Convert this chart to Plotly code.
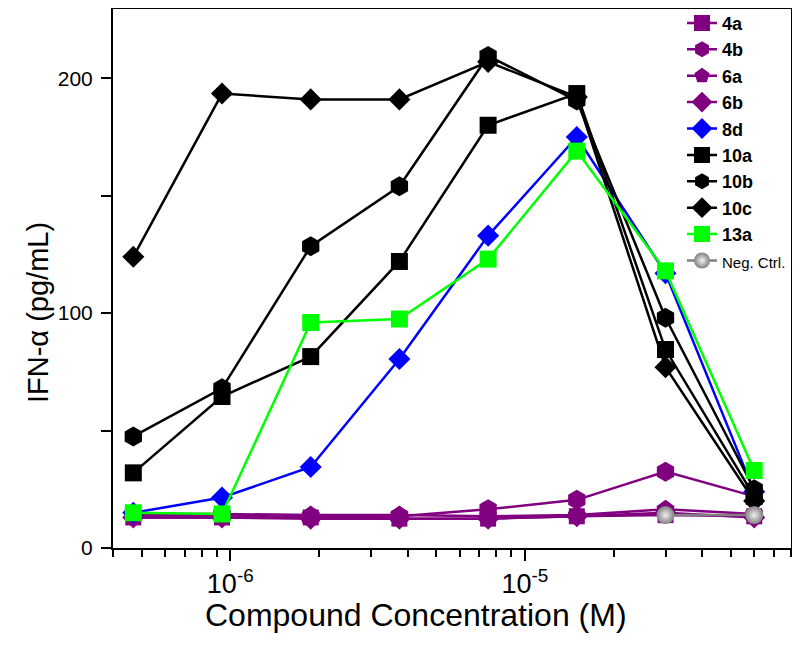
import plotly.graph_objects as go

conc = [4.6875e-7, 9.375e-7, 1.875e-6, 3.75e-6, 7.5e-6, 1.5e-5, 3e-5, 6e-5]

v_4a = [13, 13, 13, 12.5, 12.5, 13.5, 14, 13.5]
v_4b = [14, 14, 13, 13.5, 16.5, 20.5, 32.5, 22]
v_6a = [14.5, 14.5, 14, 14, 13.5, 14, 16.5, 14.5]
v_6b = [13, 13, 12.5, 12.5, 12.5, 13.5, 15, 13]
v_8d = [15, 21.5, 34.5, 80.5, 133, 175, 117, 24]
v_10a = [32, 64.5, 81.5, 122, 180, 193.5, 84.5, 22]
v_10b = [47.5, 68, 128.5, 154, 209.5, 190.5, 98, 25]
v_10c = [124, 193.5, 191, 191, 207, 192, 77, 20]
v_13a = [15, 14.5, 96, 97.5, 123, 169, 118, 33]
neg_conc = [3e-5, 6e-5]
v_neg = [14, 14]

series = [
    ("<b>4a</b>", conc, v_4a, "#800080", "square", 16),
    ("<b>4b</b>", conc, v_4b, "#800080", "hexagon", 20),
    ("<b>6a</b>", conc, v_6a, "#800080", "pentagon", 19),
    ("<b>6b</b>", conc, v_6b, "#800080", "diamond", 17),
    ("<b>8d</b>", conc, v_8d, "#0000FF", "diamond", 17),
    ("<b>10a</b>", conc, v_10a, "#000000", "square", 17),
    ("<b>10b</b>", conc, v_10b, "#000000", "hexagon", 20),
    ("<b>10c</b>", conc, v_10c, "#000000", "diamond", 17),
    ("<b>13a</b>", conc, v_13a, "#00FF00", "square", 17),
]

fig = go.Figure()
for name, xs, ys, col, sym, sz in series:
    fig.add_trace(go.Scatter(
        x=xs, y=ys, name=name, mode="lines+markers",
        line=dict(color=col, width=2.5),
        marker=dict(symbol=sym, size=sz, color=col, line=dict(width=0)),
    ))
fig.add_trace(go.Scatter(
    x=neg_conc, y=v_neg, name="<span style='font-size:15px'>Neg. Ctrl.</span>",
    mode="lines+markers", line=dict(color="#808080", width=2.5),
    marker=dict(symbol="circle", size=18, color="#808080",
                gradient=dict(type="radial", color="#f0f0f0"), line=dict(width=0)),
))

# page body has an 8px default margin; figure is sized/offset to compensate
fig.update_layout(
    width=792, height=648,
    margin=dict(l=105, r=9, t=1, b=108, autoexpand=False),
    plot_bgcolor="white", paper_bgcolor="white",
    font=dict(family="Liberation Sans, Arial, sans-serif", color="black"),
    showlegend=True,
    legend=dict(x=1, xanchor="right", y=1.008, yanchor="top", bgcolor="rgba(0,0,0,0)",
                font=dict(size=18, color="black"), tracegroupgap=0),
    annotations=[
        dict(text="Compound Concentration (M)", xref="paper", yref="paper",
             x=0.447, y=-0.124, xanchor="center", yanchor="middle",
             showarrow=False, font=dict(size=32)),
        dict(text="IFN-α (pg/mL)", xref="paper", yref="paper",
             x=-0.1106, y=0.436, xanchor="center", yanchor="middle", textangle=-90,
             showarrow=False, font=dict(size=29)),
    ],
)
fig.update_xaxes(
    type="log", range=[-6.398, -4.097], automargin=False,
    tickvals=[1e-6, 1e-5], ticktext=["10<sup>-6</sup>", "10<sup>-5</sup>"],
    ticks="outside", ticklen=11, tickwidth=2, tickcolor="black",
    tickfont=dict(size=27),
    minor=dict(ticks="outside", ticklen=7, tickwidth=2, tickcolor="black", dtick="D1", showgrid=False),
    showline=True, linecolor="black", linewidth=2, mirror=True,
    showgrid=False, zeroline=False,
)
fig.update_yaxes(
    range=[0, 229.5], tickvals=[0, 100, 200], automargin=False,
    ticks="outside", ticklen=10, tickwidth=2, tickcolor="black",
    tickfont=dict(size=21), ticklabelstandoff=4,
    minor=dict(ticks="outside", ticklen=10, tickwidth=2, tickcolor="black", tickvals=[50, 150], showgrid=False),
    showline=True, linecolor="black", linewidth=2, mirror=True,
    showgrid=False, zeroline=False,
)

fig.write_html("out.html")
